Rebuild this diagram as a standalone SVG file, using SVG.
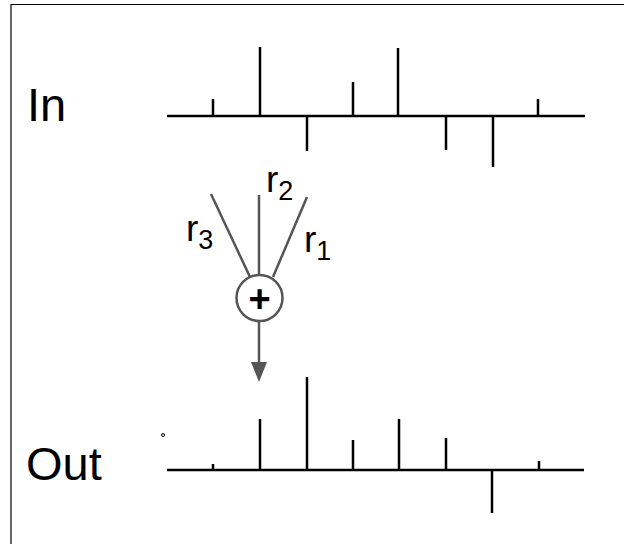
<svg xmlns="http://www.w3.org/2000/svg" width="624" height="544" viewBox="0 0 624 544">
<defs>
<style>
.stem{stroke:#000;stroke-width:2.5;fill:none}
.g{stroke:#555;stroke-width:2.5;fill:none}
.lbl{font-family:"Liberation Sans",Arial,sans-serif;fill:#000}
.big{font-size:47px}
.r{font-size:37px}
.sub{font-size:27px}
</style>
<marker id="ah" viewBox="0 0 20 16" refX="0" refY="8" markerWidth="20" markerHeight="16" markerUnits="userSpaceOnUse" orient="auto">
<path d="M0,0 L20,8 L0,16 z" fill="#555"/>
</marker>
</defs>
<rect x="0" y="0" width="624" height="544" fill="#fff"/>
<path d="M11,544 V4.5 H624" stroke="#000" stroke-width="1.2" fill="none"/>
<g id="in-signal">
<text class="lbl big" x="27" y="121">In</text>
<path class="stem" d="M167,116 H585 M213,116 V99 M260,116 V47 M307,116 V151 M353,116 V82 M398,116 V48 M446,116 V150 M493,116 V167 M538,116 V99"/>
</g>
<g id="out-signal">
<text class="lbl big" x="26" y="480">Out</text>
<circle cx="163" cy="435" r="1.5" fill="none" stroke="#000" stroke-width="1"/>
<path class="stem" d="M167,470 H584 M213,470 V464 M260,470 V419 M307,470 V377 M353,470 V440 M399,470 V419 M446,470 V438 M492,470 V513 M539,470 V461"/>
</g>
<g id="connectors">
<line class="g" x1="211" y1="194" x2="250" y2="277"/>
<line class="g" x1="259" y1="195" x2="259" y2="275"/>
<line class="g" x1="307" y1="197" x2="273" y2="277"/>
<line class="g" x1="259" y1="322" x2="259" y2="362" marker-end="url(#ah)"/>
</g>
<g id="sum">
<circle cx="259.5" cy="298" r="23" fill="#fff" stroke="#555" stroke-width="2.5"/>
<text class="lbl" x="259.5" y="312" font-size="38" font-weight="bold" text-anchor="middle">+</text>
</g>
<g id="labels">
<text class="lbl r" x="186" y="241">r<tspan class="sub" dy="8">3</tspan></text>
<text class="lbl r" x="266" y="192">r<tspan class="sub" dy="8">2</tspan></text>
<text class="lbl r" x="304" y="252">r<tspan class="sub" dy="8">1</tspan></text>
</g>
</svg>
